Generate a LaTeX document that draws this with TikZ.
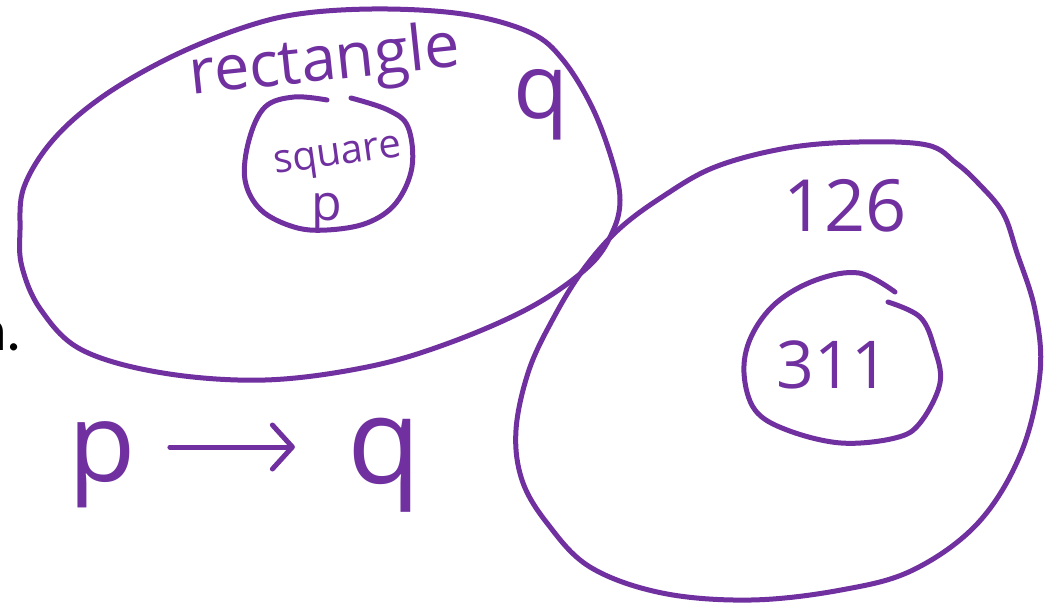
\documentclass[tikz,border=0pt]{standalone}
\usepackage{fontspec}
\setmainfont{Open Sans}
\newfontfamily\notefont{Carlito}
\usetikzlibrary{arrows.meta,positioning}
\definecolor{ink}{RGB}{112,48,160}

\begin{document}
\begin{tikzpicture}[x=1pt, y=-1pt,
        loop/.style={draw=ink, line width=5pt, line cap=round, line join=round},
        word/.style={text=ink, inner sep=0pt},
        fsize/.style={font=\fontsize{#1}{#1}\selectfont}]
    \useasboundingbox (0,0) rectangle (1063,603);

    % set q with the squares inside it
    \draw[loop] plot[smooth cycle, tension=0.6] coordinates {(20,230) (24,187) (53,140) (102,97) (171,57) (245,27) (306,13) (388,9) (469,15) (531,33) (563,60) (592,107) (612,160) (620,200) (612,233) (588,267) (531,307) (449,343) (367,367) (265,380) (163,373) (82,350) (41,310) (22,267)};
    \draw[loop] plot[smooth, tension=0.6] coordinates {(327,100) (294,97) (265,107) (249,140) (245,180) (261,210) (294,227) (327,230) (367,223) (396,203) (412,167) (408,127) (388,110) (351,98)};

    \node[word, fsize=63, rotate=6] (rect) at (325,64) {rectangle};
    \node[word, fsize=90] (qset) at (541,105) {q};
    \node[word, fsize=40, rotate=8] (sq) at (338,159) {square};
    \node[word, fsize=50] (pset) at (327,213) {p};

    % numbers
    \draw[loop] plot[smooth cycle, tension=0.6] coordinates {(927,145) (859,142) (787,148) (715,167) (662,197) (618,230) (583,270) (554,317) (529,370) (516,430) (522,480) (547,523) (590,567) (662,593) (751,600) (841,590) (913,570) (978,523) (1021,453) (1040,373) (1035,310) (1017,253) (1003,213) (978,183) (956,163)};
    \draw[loop] plot[smooth, tension=0.6] coordinates {(895,292) (859,273) (816,280) (776,303) (751,337) (744,373) (755,410) (787,430) (841,443) (895,438) (920,423) (940,383) (934,347) (920,317) (888,302)};

    \node[word, fsize=72] (big) at (845,206) {126};
    \node[word, fsize=66] (small) at (833,365) {311};

    \node[inner sep=0pt, font=\notefont\fontsize{60}{60}\selectfont, anchor=east] (cut) at (22,336) {n.};

    % p -> q
    \node[word, fsize=110] (p) at (102,465) {p};
    \node[word, fsize=120, right=211pt of p] (q) {q};
    \draw[loop, -{Straight Barb[length=20pt, width=44pt, round]}, shorten <=34pt, shorten >=52pt] ([yshift=18pt]p.east) -- ([yshift=18pt]q.west);
\end{tikzpicture}
\end{document}
